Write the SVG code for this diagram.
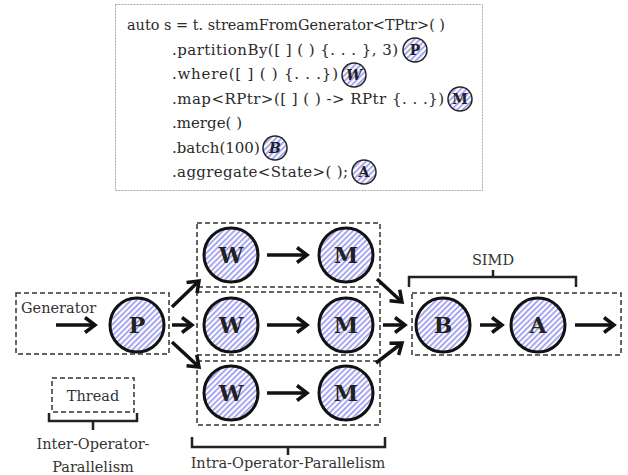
<svg xmlns="http://www.w3.org/2000/svg" width="628" height="475" viewBox="0 0 628 475">
  <defs>
    <pattern id="hatch" patternUnits="userSpaceOnUse" width="4" height="4" patternTransform="rotate(45)">
      <rect width="4" height="4" fill="#ffffff"/>
      <rect width="1.7" height="4" fill="#9a9aee"/>
    </pattern>
    <marker id="ah" markerUnits="userSpaceOnUse" markerWidth="18" markerHeight="20" viewBox="-14 -10 18 20" refX="0" refY="0" orient="auto">
      <path d="M-10,-7.5 L0,0 L-10,7.5" fill="none" stroke="#111" stroke-width="3.5"/>
    </marker>
    <style>
      .code { font-family: "DejaVu Serif", "Liberation Serif", serif; font-size: 15px; fill: #2a2a2a; }
      .lbl { font-family: "DejaVu Serif", "Liberation Serif", serif; font-size: 14.5px; fill: #333; }
      .op circle { fill: url(#hatch); stroke: #111; stroke-width: 3; }
      .op text { font-family: "DejaVu Serif", "Liberation Serif", serif; font-size: 22px; font-weight: bold; fill: #222; text-anchor: middle; }
      .tag circle { fill: url(#hatch); stroke: #222; stroke-width: 1.5; }
      .tag text { font-family: "DejaVu Serif", "Liberation Serif", serif; font-size: 14px; font-weight: bold; fill: #222; text-anchor: middle; }
      .grp { fill: none; stroke: #333; stroke-width: 1.5; stroke-dasharray: 5 3; }
      .brk { fill: none; stroke: #222; stroke-width: 2.5; }
      .edge { fill: none; stroke: #111; stroke-width: 3.5; marker-end: url(#ah); }
    </style>
  </defs>

  <rect width="628" height="475" fill="#ffffff"/>

  <!-- code listing -->
  <g id="code">
    <rect x="115.5" y="4.5" width="367" height="186" fill="#ffffff" stroke="#a8a8a8" stroke-width="1" stroke-dasharray="2 1"/>
    <text class="code" x="127" y="30" textLength="318" lengthAdjust="spacingAndGlyphs">auto s = t. streamFromGenerator&lt;TPtr&gt;( )</text>
    <text class="code" x="172" y="54.5" textLength="226" lengthAdjust="spacing">.partitionBy([ ] ( ) {. . . }, 3)</text>
    <text class="code" x="172" y="79" textLength="166" lengthAdjust="spacing">.where([ ] ( ) {. . .})</text>
    <text class="code" x="172" y="103.5" textLength="272" lengthAdjust="spacing">.map&lt;RPtr&gt;([ ] ( ) -&gt; RPtr {. . .})</text>
    <text class="code" x="172" y="128">.merge( )</text>
    <text class="code" x="172" y="152.5">.batch(100)</text>
    <text class="code" x="172" y="177" textLength="176" lengthAdjust="spacing">.aggregate&lt;State&gt;( );</text>
    <g class="tag" id="tag-p"><circle cx="415" cy="50" r="12"/><text x="415" y="55">P</text></g>
    <g class="tag" id="tag-w"><circle cx="354" cy="75" r="12"/><text x="354" y="80" font-style="italic">W</text></g>
    <g class="tag" id="tag-m"><circle cx="460" cy="99" r="12"/><text x="460" y="104">M</text></g>
    <g class="tag" id="tag-b"><circle cx="275" cy="148" r="12"/><text x="275" y="153" font-style="italic">B</text></g>
    <g class="tag" id="tag-a"><circle cx="364" cy="172" r="12"/><text x="364" y="177">A</text></g>
  </g>

  <!-- thread groups -->
  <g id="groups">
    <rect class="grp" x="16" y="293" width="153" height="61"/>
    <rect class="grp" x="197" y="223" width="183" height="64"/>
    <rect class="grp" x="197" y="292" width="183" height="63"/>
    <rect class="grp" x="197" y="361" width="183" height="64"/>
    <rect class="grp" x="412" y="293" width="209" height="62"/>
    <rect class="grp" x="52" y="378" width="82" height="34"/>
  </g>

  <!-- braces and labels -->
  <g id="labels">
    <text class="lbl" x="21" y="313">Generator</text>
    <path class="brk" d="M409,287 V277 H576 V287 M493,277 V270"/>
    <text class="lbl" x="493" y="265" text-anchor="middle">SIMD</text>
    <text class="lbl" x="93" y="401" text-anchor="middle">Thread</text>
    <path class="brk" d="M49,413 V421 H137 V413 M93,421 V430"/>
    <text class="lbl" x="93" y="449" text-anchor="middle">Inter-Operator-</text>
    <text class="lbl" x="93" y="472" text-anchor="middle">Parallelism</text>
    <path class="brk" d="M192,437 V447 H385 V437 M288,447 V455"/>
    <text class="lbl" x="288" y="468" text-anchor="middle">Intra-Operator-Parallelism</text>
  </g>

  <!-- connectors -->
  <g id="edges">
    <path class="edge" d="M56,325 H95"/>
    <path class="edge" d="M172,325 H192"/>
    <path class="edge" d="M172,307 L199,281"/>
    <path class="edge" d="M172,342 L199,367"/>
    <path class="edge" d="M267,255 H307"/>
    <path class="edge" d="M267,325 H307"/>
    <path class="edge" d="M267,393 H307"/>
    <path class="edge" d="M377,279 L402,302"/>
    <path class="edge" d="M383,325 H405"/>
    <path class="edge" d="M376,363 L402,343"/>
    <path class="edge" d="M480,325 H502"/>
    <path class="edge" d="M575,325 H614"/>
  </g>

  <!-- operators -->
  <g class="op" id="node-p"><circle cx="137" cy="325" r="27"/><text x="137" y="333">P</text></g>
  <g class="op" id="node-w1"><circle cx="231" cy="255" r="27"/><text x="231" y="263">W</text></g>
  <g class="op" id="node-w2"><circle cx="231" cy="325" r="27"/><text x="231" y="333">W</text></g>
  <g class="op" id="node-w3"><circle cx="231" cy="393" r="27"/><text x="231" y="401">W</text></g>
  <g class="op" id="node-m1"><circle cx="346" cy="255" r="27"/><text x="346" y="263">M</text></g>
  <g class="op" id="node-m2"><circle cx="346" cy="325" r="27"/><text x="346" y="333">M</text></g>
  <g class="op" id="node-m3"><circle cx="346" cy="393" r="27"/><text x="346" y="401">M</text></g>
  <g class="op" id="node-b"><circle cx="443" cy="325" r="27"/><text x="443" y="333">B</text></g>
  <g class="op" id="node-a"><circle cx="538" cy="325" r="27"/><text x="538" y="333">A</text></g>
</svg>
